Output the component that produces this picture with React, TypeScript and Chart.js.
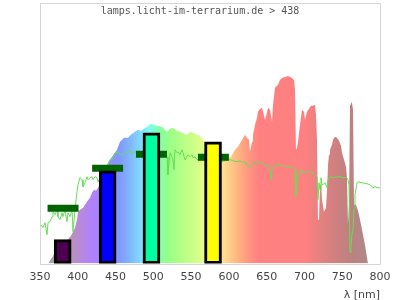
import React, { useEffect, useRef } from "react";
import { Chart, registerables } from "chart.js";

Chart.register(...registerables);

const TITLE = "lamps.licht-im-terrarium.de > 438";
const X_TITLE = "λ [nm]";
const X_TICKS_MIN = 350;
const X_TICKS_MAX = 800;

// lamp spectrum (filled, coloured by wavelength)
const SPECTRUM_NM = [361, 363.2, 365.9, 368.5, 376.5, 384.4, 391, 393.7, 396.3, 399, 400.3, 402.9, 406.9, 409.6, 412.2, 416.2, 418.8, 421.5, 424.1, 426.8, 434.7, 442.6, 451.9, 455.9, 461.2, 466.5, 470.4, 475.7, 479.7, 483.7, 491.6, 496.9, 503.5, 511.5, 515.4, 518.1, 522.1, 526, 531.3, 535.3, 540.6, 544.6, 548.5, 552.5, 557.8, 561.8, 565.7, 575, 585.6, 592.2, 597.5, 602.8, 608.1, 612.1, 617.4, 621.3, 624, 626.6, 627.9, 630.6, 631.9, 634.6, 637.2, 638.5, 641.2, 643.8, 645.2, 647.8, 650.4, 651.8, 654.4, 657.1, 658.4, 661, 663.7, 665, 667.6, 670.3, 674.3, 678.2, 683.5, 686.2, 687.5, 688.8, 690.1, 691.5, 694.1, 696.8, 699.4, 700.7, 703.4, 706, 708.7, 711.3, 714, 715.3, 716.6, 717.9, 719.3, 720.6, 721.9, 723.2, 725.9, 728.5, 729.9, 731.2, 732.5, 733.8, 736.5, 737.8, 740.4, 743.1, 745.7, 748.4, 749.7, 752.4, 755, 756.3, 757.6, 759, 760.3, 761.6, 762.9, 764.3, 765.6, 768.2, 769.6, 772.2, 774.9, 777.5, 780.1, 781.5, 782.8, 784.1];
const SPECTRUM_VALUES = [0, 3, 6, 9, 16, 22, 28, 32, 36, 44, 52, 54, 56, 59, 62, 66, 71, 74, 73, 76, 89, 104, 114, 122, 126, 126, 129, 132, 134, 133, 137, 140, 138, 137, 134, 132, 135, 136, 133, 132, 130, 129, 132, 131, 129, 128, 124, 114, 106, 104, 104, 107, 114, 117, 124, 129, 126, 124, 112, 122, 129, 139, 146, 152, 155, 156, 152, 144, 151, 156, 154, 142, 159, 176, 178, 179, 184, 186, 187, 188, 186, 184, 174, 114, 116, 122, 139, 154, 152, 144, 152, 155, 158, 158, 159, 149, 124, 44, 44, 79, 84, 64, 52, 56, 74, 99, 109, 114, 119, 124, 127, 126, 123, 118, 111, 104, 97, 86, 40, 60, 159, 161, 161, 154, 59, 59, 56, 49, 39, 29, 19, 12, 6, 0];

// reference spectrum (green line)
const REFERENCE_NM = [351.3, 354, 356.6, 359.3, 360.6, 363.2, 365.9, 367.2, 369.9, 372.5, 373.8, 376.5, 379.1, 380.4, 383.1, 385.7, 387.1, 389.7, 392.4, 393.7, 396.3, 399, 400.3, 402.9, 405.6, 406.9, 409.6, 412.2, 413.5, 416.2, 418.8, 420.1, 422.8, 425.4, 426.8, 436, 442.6, 445.3, 449.3, 453.2, 455.9, 458.5, 462.5, 466.5, 469.1, 471.8, 475.7, 482.4, 495.6, 508.8, 515.4, 518.1, 519.4, 522.1, 524.7, 526, 527.4, 528.7, 531.3, 532.6, 535.3, 537.9, 539.3, 541.9, 544.6, 545.9, 548.5, 551.2, 552.5, 555.1, 557.8, 568.4, 581.6, 590.9, 598.8, 601.5, 605.4, 610.7, 614.7, 618.7, 621.3, 625.3, 627.9, 631.9, 638.5, 643.8, 647.8, 651.8, 654.4, 655.7, 657.1, 661, 670.3, 678.2, 684.9, 687.5, 688.8, 690.1, 691.5, 694.1, 696.8, 698.1, 700.7, 703.4, 707.4, 711.3, 714, 716.6, 717.9, 719.3, 720.6, 721.9, 723.2, 724.6, 727.2, 729.9, 731.2, 733.8, 737.8, 743.1, 747.1, 751, 756.3, 757.6, 759, 760.3, 761.6, 762.9, 764.3, 765.6, 766.9, 769.6, 770.9, 776.2, 782.8, 786.8, 789.4, 790.7, 793.4, 796, 800];
const REFERENCE_VALUES = [39, 36, 41, 29, 41, 42, 47, 52, 49, 54, 47, 44, 51, 47, 54, 42, 51, 47, 54, 32, 54, 72, 79, 86, 84, 77, 81, 87, 84, 86, 87, 84, 87, 86, 82, 94, 104, 104, 111, 112, 109, 109, 111, 112, 114, 109, 112, 111, 112, 110, 109, 107, 89, 111, 107, 104, 94, 114, 111, 112, 109, 114, 111, 104, 107, 109, 107, 109, 106, 107, 104, 104, 103, 102, 104, 104, 103, 102, 103, 101, 102, 97, 97, 101, 102, 101, 98, 99, 97, 84, 94, 99, 98, 97, 96, 94, 67, 81, 87, 89, 94, 92, 91, 92, 92, 91, 89, 87, 64, 81, 74, 86, 79, 79, 81, 76, 84, 87, 86, 87, 87, 86, 86, 84, 79, 11, 19, 29, 34, 54, 69, 81, 82, 81, 80, 79, 77, 76, 77, 76, 76];

// colour bands (bars)
const BAR_NM = [380, 439.5, 497.5, 579];
const BAR_VALUES = [24, 93, 131, 122];
const BAR_COLORS = ["#4d004f", "#0000ff", "#00ffa2", "#ffff00"];

// dark green range markers
const MARK_FROM = [360, 419, 477, 559];
const MARK_TO = [401, 460, 518, 600];
const MARK_VALUES = [55.5, 95.5, 109.5, 106.5];

// wavelength colour scale for the filled spectrum
const GRADIENT_NM = [350, 375, 395, 405, 420, 440, 455, 470, 485, 495, 505, 520, 540, 560, 575, 585, 595, 610, 625, 640, 700, 720, 740, 760, 780, 800];
const GRADIENT_COLORS = ["#a8a0a8", "#b0a0b0", "#b890c0", "#b888e0", "#b080ff", "#9888ff", "#8098ff", "#80b8ff", "#80e0ff", "#80fff0", "#80ffb0", "#98ff88", "#b8ff88", "#d8ff88", "#f0ff88", "#fff090", "#ffd890", "#ffb880", "#ff9880", "#ff8080", "#ff8080", "#e88080", "#d08080", "#c08080", "#b08888", "#a89090"];

const overlayPlugin = {
  id: "overlay",
  afterDatasetsDraw(chart: any) {
    const { ctx, chartArea: a } = chart;
    ctx.save();
    ctx.strokeStyle = "#d6d6d6";
    ctx.lineWidth = 1;
    ctx.strokeRect(Math.round(a.left) + 0.5, Math.round(a.top) + 0.5, Math.round(a.right - a.left), Math.round(a.bottom - a.top));
    ctx.font = '10px "DejaVu Sans Mono"';
    ctx.fillStyle = "#555";
    ctx.textAlign = "center";
    ctx.textBaseline = "middle";
    ctx.fillText(TITLE, chart.width / 2, 11);
    ctx.restore();
  },
};

export default function App() {
  const ref = useRef<HTMLCanvasElement | null>(null);
  useEffect(() => {
    document.body.style.margin = "0";
    const canvas = ref.current;
    if (!canvas) return;

    const spectrum = SPECTRUM_NM.map((x, i) => ({ x, y: SPECTRUM_VALUES[i] }));
    const reference = REFERENCE_NM.map((x, i) => ({ x, y: REFERENCE_VALUES[i] }));
    const bars = BAR_NM.map((x, i) => ({ x, y: BAR_VALUES[i] }));
    const marks: any[] = [];
    MARK_FROM.forEach((f, i) => {
      marks.push({ x: f, y: MARK_VALUES[i] });
      marks.push({ x: MARK_TO[i], y: MARK_VALUES[i] });
      marks.push({ x: MARK_TO[i] + 1, y: null });
    });

    const chart = new Chart(canvas, {
      type: "bar",
      data: {
        datasets: [
          {
            type: "bar",
            data: bars,
            backgroundColor: BAR_COLORS,
            borderColor: "#000",
            borderWidth: 3,
            borderSkipped: false,
            barThickness: 17,
            order: 0,
          } as any,
          {
            type: "line",
            data: marks,
            borderColor: "#006400",
            borderWidth: 7,
            borderCapStyle: "butt",
            pointRadius: 0,
            spanGaps: false,
            fill: false,
            order: 1,
          } as any,
          {
            type: "line",
            data: reference,
            borderColor: "#66dd55",
            borderWidth: 1,
            pointRadius: 0,
            fill: false,
            order: 2,
          } as any,
          {
            type: "line",
            data: spectrum,
            borderWidth: 0,
            borderColor: "rgba(0,0,0,0)",
            pointRadius: 0,
            fill: "origin",
            backgroundColor: (c: any) => {
              const ch = c.chart;
              const xs = ch.scales && ch.scales.x;
              if (!ch.chartArea || !xs) return GRADIENT_COLORS[0];
              const x0 = xs.getPixelForValue(X_TICKS_MIN);
              const x1 = xs.getPixelForValue(X_TICKS_MAX);
              const g = ch.ctx.createLinearGradient(x0, 0, x1, 0);
              GRADIENT_NM.forEach((nm, i) =>
                g.addColorStop((nm - X_TICKS_MIN) / (X_TICKS_MAX - X_TICKS_MIN), GRADIENT_COLORS[i])
              );
              return g;
            },
            order: 3,
          } as any,
        ],
      },
      options: {
        responsive: false,
        animation: false,
        events: [],
        layout: { padding: { left: 40, right: 20, top: 3, bottom: 0 } },
        plugins: { legend: { display: false }, tooltip: { enabled: false }, title: { display: false } },
        scales: {
          x: {
            type: "linear",
            offset: false,
            min: X_TICKS_MIN,
            max: X_TICKS_MAX,
            grid: { display: false, drawTicks: false, tickLength: 0 },
            border: { display: false },
            ticks: {
              stepSize: 50,
              autoSkip: false,
              maxRotation: 0,
              padding: 7,
              color: "#444",
              font: { family: "DejaVu Sans", size: 11 },
            },
            title: {
              display: true,
              text: X_TITLE,
              align: "end",
              color: "#444",
              font: { family: "DejaVu Sans", size: 11 },
              padding: { top: -2, bottom: -2 },
            },
          },
          y: { display: false, min: 0, max: 261 },
        },
      },
      plugins: [overlayPlugin],
    });
    return () => chart.destroy();
  }, []);

  return (
    <div style={{ width: 400, height: 300 }}>
      <canvas ref={ref} width={400} height={300} />
    </div>
  );
}
